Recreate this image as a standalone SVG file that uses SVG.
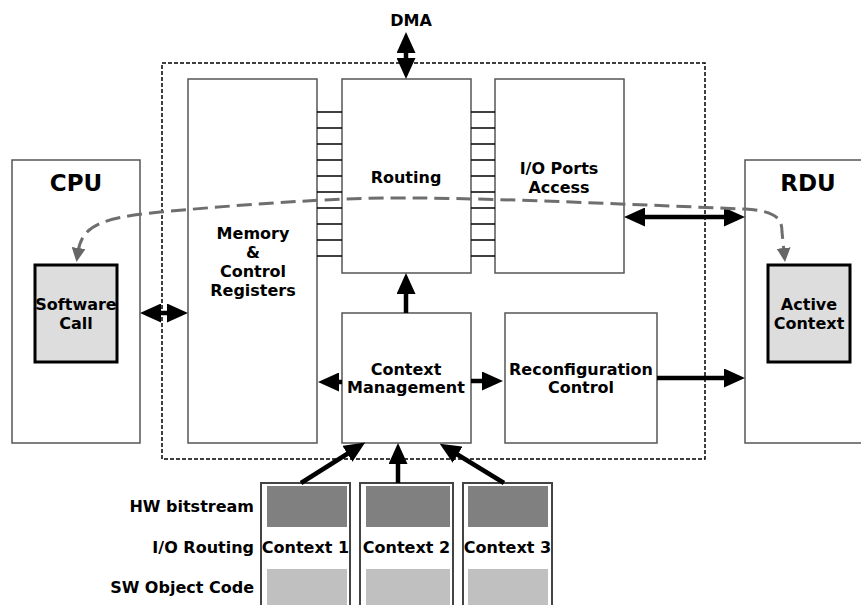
<svg xmlns="http://www.w3.org/2000/svg" width="861" height="605" viewBox="0 0 861 605">
<defs>
<style>
text{font-family:"DejaVu Sans","Verdana","Liberation Sans",sans-serif;font-weight:bold;font-size:16px;fill:#000;text-anchor:middle}
.box{fill:#fff;stroke:#555;stroke-width:1.5}
.hi{fill:#ddd;stroke:#000;stroke-width:3}
.ctx{fill:#fff;stroke:#444;stroke-width:2}
.dark{fill:#808080}
.light{fill:#c0c0c0}
.big{font-size:23px}
.lab{text-anchor:end}
.arr{stroke:#000;stroke-width:4.5;fill:none}
.comb{stroke:#000;stroke-width:1.5}
</style>
<marker id="ah" viewBox="0 0 21 19" refX="9" refY="9.5" markerWidth="21" markerHeight="19" markerUnits="userSpaceOnUse" orient="auto-start-reverse">
<path d="M0,0 L21,9.5 L0,19 z" fill="#000"/>
</marker>
<marker id="gh" viewBox="0 0 14 14" refX="4" refY="7" markerWidth="14" markerHeight="14" markerUnits="userSpaceOnUse" orient="auto-start-reverse">
<path d="M0,0 L14,7 L0,14 z" fill="#666"/>
</marker>
</defs>

<rect x="162" y="63" width="543" height="396" fill="none" stroke="#000" stroke-width="1.5" stroke-dasharray="4,2"/>

<g id="cpu">
<rect class="box" x="12" y="160" width="128" height="283"/>
<text class="big" x="76" y="191">CPU</text>
</g>
<g id="software-call">
<rect class="hi" x="35" y="265" width="82" height="97"/>
<text x="76" y="310">Software</text>
<text x="76" y="329">Call</text>
</g>
<g id="rdu">
<rect class="box" x="745" y="160" width="125" height="283"/>
<text class="big" x="808" y="191">RDU</text>
</g>
<g id="active-context">
<rect class="hi" x="768" y="265" width="82" height="97"/>
<text x="809" y="310">Active</text>
<text x="809" y="329">Context</text>
</g>
<g id="memory">
<rect class="box" x="188" y="79" width="129" height="364"/>
<text x="253" y="239">Memory</text>
<text x="253" y="258">&amp;</text>
<text x="253" y="277">Control</text>
<text x="253" y="296">Registers</text>
</g>
<g id="routing">
<rect class="box" x="342" y="79" width="129" height="194"/>
<text x="406" y="183">Routing</text>
</g>
<g id="io-ports">
<rect class="box" x="495" y="79" width="129" height="194"/>
<text x="559" y="174">I/O Ports</text>
<text x="559" y="193">Access</text>
</g>
<g id="context-management">
<rect class="box" x="342" y="313" width="129" height="130"/>
<text x="406" y="375">Context</text>
<text x="406" y="393">Management</text>
</g>
<g id="reconfiguration-control">
<rect class="box" x="505" y="313" width="152" height="130"/>
<text x="581" y="375">Reconfiguration</text>
<text x="581" y="393">Control</text>
</g>
<g id="dma">
<text x="411" y="26">DMA</text>
</g>
<g id="labels">
<text class="lab" x="254" y="512">HW bitstream</text>
<text class="lab" x="254" y="553">I/O Routing</text>
<text class="lab" x="254" y="593">SW Object Code</text>
</g>
<g id="context-1">
<rect class="ctx" x="261" y="483" width="89" height="130"/>
<rect class="dark" x="267" y="486" width="80" height="41"/>
<rect class="light" x="267" y="569" width="80" height="40"/>
<text x="305.5" y="553">Context 1</text>
</g>
<g id="context-2">
<rect class="ctx" x="360" y="483" width="93" height="130"/>
<rect class="dark" x="366" y="486" width="84" height="41"/>
<rect class="light" x="366" y="569" width="84" height="40"/>
<text x="406.5" y="553">Context 2</text>
</g>
<g id="context-3">
<rect class="ctx" x="463" y="483" width="89" height="130"/>
<rect class="dark" x="468" y="486" width="80" height="41"/>
<rect class="light" x="468" y="569" width="80" height="40"/>
<text x="507.5" y="553">Context 3</text>
</g>

<g id="connectors">
<g class="comb">
<line x1="317" y1="112" x2="342" y2="112"/><line x1="317" y1="128" x2="342" y2="128"/>
<line x1="317" y1="144" x2="342" y2="144"/><line x1="317" y1="160" x2="342" y2="160"/>
<line x1="317" y1="176" x2="342" y2="176"/><line x1="317" y1="192" x2="342" y2="192"/>
<line x1="317" y1="208" x2="342" y2="208"/><line x1="317" y1="224" x2="342" y2="224"/>
<line x1="317" y1="240" x2="342" y2="240"/><line x1="317" y1="256" x2="342" y2="256"/>
<line x1="471" y1="112" x2="495" y2="112"/><line x1="471" y1="128" x2="495" y2="128"/>
<line x1="471" y1="144" x2="495" y2="144"/><line x1="471" y1="160" x2="495" y2="160"/>
<line x1="471" y1="176" x2="495" y2="176"/><line x1="471" y1="192" x2="495" y2="192"/>
<line x1="471" y1="208" x2="495" y2="208"/><line x1="471" y1="224" x2="495" y2="224"/>
<line x1="471" y1="240" x2="495" y2="240"/><line x1="471" y1="256" x2="495" y2="256"/>
</g>
<line class="arr" x1="406" y1="44" x2="406" y2="67" marker-start="url(#ah)" marker-end="url(#ah)"/>
<line class="arr" x1="406" y1="313" x2="406" y2="285" marker-end="url(#ah)"/>
<line class="arr" x1="152" y1="313" x2="176" y2="313" marker-start="url(#ah)" marker-end="url(#ah)"/>
<line class="arr" x1="342" y1="382" x2="330" y2="382" marker-end="url(#ah)"/>
<line class="arr" x1="471" y1="381" x2="491" y2="381" marker-end="url(#ah)"/>
<line class="arr" x1="636" y1="217" x2="733" y2="217" marker-start="url(#ah)" marker-end="url(#ah)"/>
<line class="arr" x1="657" y1="378" x2="733" y2="378" marker-end="url(#ah)"/>
<line class="arr" x1="301" y1="483" x2="355" y2="449" marker-end="url(#ah)"/>
<line class="arr" x1="398" y1="483" x2="398" y2="455" marker-end="url(#ah)"/>
<line class="arr" x1="504" y1="483" x2="450" y2="450" marker-end="url(#ah)"/>
<path d="M78,252 C82,226 100,218 160,212 C260,203 350,197 420,198 C520,199 640,205 745,209 C778,211 782,220 782,232 L784,252" fill="none" stroke="#6e6e6e" stroke-width="3" stroke-dasharray="15,7" marker-start="url(#gh)" marker-end="url(#gh)"/>
</g>
</svg>
